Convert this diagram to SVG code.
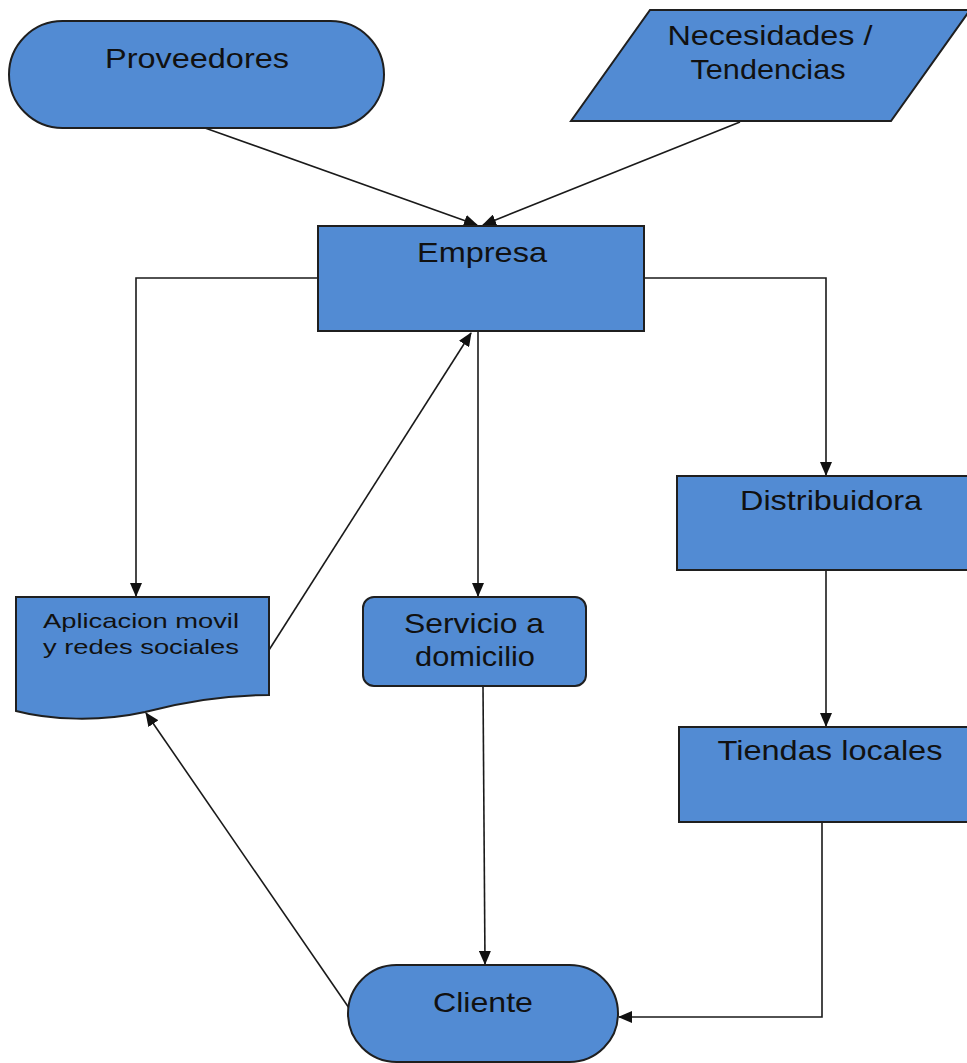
<svg xmlns="http://www.w3.org/2000/svg" width="967" height="1063" viewBox="0 0 967 1063">
<style>
.shape{fill:#528bd3;stroke:#1f1f1f;stroke-width:2}
.t{font-family:"Liberation Sans",Arial,sans-serif;font-size:28px;fill:#111;text-anchor:middle}
.ts{font-family:"Liberation Sans",Arial,sans-serif;font-size:21px;fill:#111;text-anchor:middle}
.c{fill:none;stroke:#1a1a1a;stroke-width:1.6}
</style>
<defs>
<marker id="ah" markerWidth="14" markerHeight="12" refX="13" refY="6" orient="auto" markerUnits="userSpaceOnUse">
<path d="M0,0 L14,6 L0,12 Z" fill="#111"/>
</marker>
</defs>
<rect width="967" height="1063" fill="#fff"/>
<g id="connectors">
<path class="c" d="M205,128 L477,225" marker-end="url(#ah)"/>
<path class="c" d="M740,122 L483,225" marker-end="url(#ah)"/>
<path class="c" d="M318,278 H136 V596" marker-end="url(#ah)"/>
<path class="c" d="M644,278 H826 V475" marker-end="url(#ah)"/>
<path class="c" d="M478,331 V596" marker-end="url(#ah)"/>
<path class="c" d="M269,650 L471,333" marker-end="url(#ah)"/>
<path class="c" d="M483,686 L485,964" marker-end="url(#ah)"/>
<path class="c" d="M826,570 V726" marker-end="url(#ah)"/>
<path class="c" d="M822,822 V1017 H619" marker-end="url(#ah)"/>
<path class="c" d="M349,1008 L146,713" marker-end="url(#ah)"/>
</g>
<g id="proveedores">
<rect class="shape" x="9" y="21" width="375" height="107" rx="53.5"/>
<text class="t" x="197" y="68" textLength="184" lengthAdjust="spacingAndGlyphs">Proveedores</text>
</g>
<g id="necesidades">
<polygon class="shape" points="650,10 970,10 891,121 571,121"/>
<text class="t" x="770" y="45" textLength="205" lengthAdjust="spacingAndGlyphs">Necesidades /</text>
<text class="t" x="768" y="79" textLength="155" lengthAdjust="spacingAndGlyphs">Tendencias</text>
</g>
<g id="empresa">
<rect class="shape" x="318" y="226" width="326" height="105"/>
<text class="t" x="482" y="262" textLength="130" lengthAdjust="spacingAndGlyphs">Empresa</text>
</g>
<g id="aplicacion">
<path class="shape" d="M16,597 H269 V695 C230,695 190,700 145,712 C100,722 50,720 16,711 Z"/>
<text class="ts" x="141" y="628" textLength="196" lengthAdjust="spacingAndGlyphs">Aplicacion movil</text>
<text class="ts" x="141" y="654" textLength="196" lengthAdjust="spacingAndGlyphs">y redes sociales</text>
</g>
<g id="servicio">
<rect class="shape" x="363" y="597" width="223" height="89" rx="11"/>
<text class="t" x="474" y="633" textLength="140" lengthAdjust="spacingAndGlyphs">Servicio a</text>
<text class="t" x="475" y="666" textLength="120" lengthAdjust="spacingAndGlyphs">domicilio</text>
</g>
<g id="distribuidora">
<rect class="shape" x="677" y="476" width="300" height="94"/>
<text class="t" x="831" y="510" textLength="182" lengthAdjust="spacingAndGlyphs">Distribuidora</text>
</g>
<g id="tiendas">
<rect class="shape" x="679" y="727" width="300" height="95"/>
<text class="t" x="830" y="760" textLength="225" lengthAdjust="spacingAndGlyphs">Tiendas locales</text>
</g>
<g id="cliente">
<rect class="shape" x="348" y="965" width="270" height="97" rx="48.5"/>
<text class="t" x="483" y="1012" textLength="100" lengthAdjust="spacingAndGlyphs">Cliente</text>
</g>
</svg>
